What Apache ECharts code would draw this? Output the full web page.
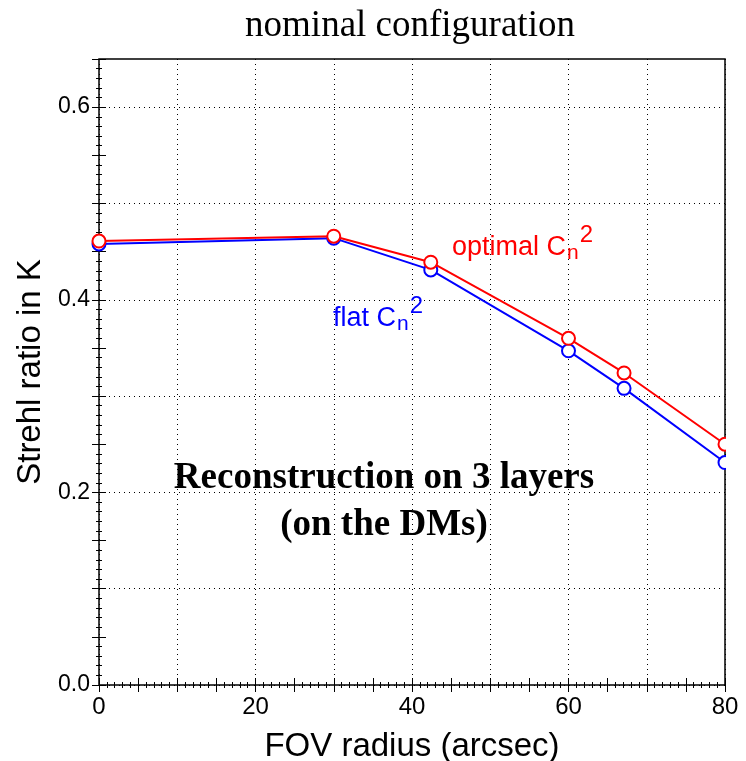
<!DOCTYPE html>
<html>
<head>
<meta charset="utf-8">
<script src="https://cdn.jsdelivr.net/npm/echarts@6/dist/echarts.min.js"></script>
<style>
  html, body { margin: 0; padding: 0; background: #fff; }
  #chart { width: 746px; height: 761px; }
</style>
</head>
<body>
<div id="chart"></div>
<script>
// FOV radius of each evaluation point (arcsec)
const fovRadius = [0, 30, 42.4, 60, 67.1, 80];
// Strehl ratio in K band for the two Cn2 profiles
const strehlOptimal = [0.461, 0.466, 0.439, 0.360, 0.324, 0.250];
const strehlFlat = [0.458, 0.464, 0.431, 0.347, 0.308, 0.231];
// Labelled ticks
const xTickLabels = [0, 20, 40, 60, 80];
const yTickLabels = [0.0, 0.2, 0.4, 0.6];

const X_MIN = 0, X_MAX = 80, Y_MIN = 0, Y_MAX = 0.65;
const sans = '"Liberation Sans", Arial, sans-serif';
const serif = '"Liberation Serif", "Times New Roman", serif';

function isLabelled(list, v) {
  return list.some(t => Math.abs(t - v) < 1e-6);
}

const tickStyle = { color: '#000', width: 1 };
// dotted grid only on every other tick (every 10 arcsec / every 0.1)
const gridDots = { color: ['#000', 'rgba(0,0,0,0)'], type: [1, 4], width: 1 };

function annotation(label, color, left, top) {
  const base = { fontFamily: sans, fill: color, color: color, lineHeight: 36 };
  return {
    type: 'text', left: left, top: top, z: 60,
    style: {
      text: '{a|' + label + ' C}{s|n}{p|2}',
      rich: {
        a: Object.assign({ fontSize: 27, verticalAlign: 'bottom' }, base),
        s: Object.assign({ fontSize: 21, verticalAlign: 'bottom', padding: [0, 1, -3, 1] }, base),
        p: Object.assign({ fontSize: 24, verticalAlign: 'top', padding: [-2, 0, 0, 0] }, base)
      }
    }
  };
}

const chart = echarts.init(document.getElementById('chart'), null, { renderer: 'canvas' });

const option = {
  animation: false,
  backgroundColor: '#fff',
  title: {
    text: 'nominal configuration',
    left: 405, top: 3, textAlign: 'center',
    textStyle: { fontFamily: serif, fontWeight: 'normal', fontSize: 37, color: '#000' }
  },
  grid: { left: 99, right: 21, top: 59, bottom: 76, containLabel: false,
          outerBoundsMode: 'none',
          show: true, borderColor: '#000', borderWidth: 1.5, backgroundColor: 'transparent' },
  xAxis: [
    {
      type: 'value', position: 'bottom', min: X_MIN, max: X_MAX, interval: 5,
      name: 'FOV radius (arcsec)', nameLocation: 'middle', nameGap: 45,
      nameTextStyle: { fontFamily: sans, fontSize: 33, color: '#000' },
      axisLine: { show: false },
      axisLabel: { show: true, margin: 10, fontFamily: sans, fontSize: 24, color: '#000',
        showMinLabel: true, showMaxLabel: true,
        formatter: v => isLabelled(xTickLabels, v) ? String(Math.round(v)) : '' },
      splitLine: { show: true, showMinLine: true, showMaxLine: true, lineStyle: gridDots },
      axisTick: { show: true, inside: true, length: 7, lineStyle: tickStyle },
      minorTick: { show: true, splitNumber: 5, length: 3, lineStyle: tickStyle }
    },
    {
      type: 'value', position: 'top', min: X_MIN, max: X_MAX, interval: 5,
      axisLine: { show: false }, axisLabel: { show: false }, splitLine: { show: false },
      axisTick: { show: true, inside: true, length: 7, lineStyle: tickStyle },
      minorTick: { show: true, splitNumber: 5, length: 3, lineStyle: tickStyle }
    }
  ],
  yAxis: [
    {
      type: 'value', position: 'left', min: Y_MIN, max: Y_MAX, interval: 0.05,
      name: 'Strehl ratio in K', nameLocation: 'middle', nameGap: 51,
      nameTextStyle: { fontFamily: sans, fontSize: 33, color: '#000' },
      axisLine: { show: false },
      axisLabel: { show: true, margin: 9, fontFamily: sans, fontSize: 23, color: '#000',
        showMinLabel: true,
        formatter: v => isLabelled(yTickLabels, v) ? v.toFixed(1) : '' },
      splitLine: { show: true, showMinLine: true, showMaxLine: true, lineStyle: gridDots },
      axisTick: { show: true, inside: true, length: 7, lineStyle: tickStyle },
      minorTick: { show: true, splitNumber: 5, length: 3, lineStyle: tickStyle }
    },
    {
      type: 'value', position: 'right', min: Y_MIN, max: Y_MAX, interval: 0.05,
      axisLine: { show: false }, axisLabel: { show: false }, splitLine: { show: false },
      axisTick: { show: true, inside: true, length: 7, lineStyle: tickStyle },
      minorTick: { show: true, splitNumber: 5, length: 3, lineStyle: tickStyle }
    }
  ],
  series: [
    {
      name: 'flat', type: 'line', xAxisIndex: 0, yAxisIndex: 0,
      data: fovRadius.map((x, i) => [x, strehlFlat[i]]),
      symbol: 'emptyCircle', symbolSize: 13,
      lineStyle: { color: '#0000ff', width: 2 },
      itemStyle: { color: '#0000ff', borderColor: '#0000ff', borderWidth: 1.3 },
      z: 3
    },
    {
      name: 'optimal', type: 'line', xAxisIndex: 0, yAxisIndex: 0,
      data: fovRadius.map((x, i) => [x, strehlOptimal[i]]),
      symbol: 'emptyCircle', symbolSize: 13,
      lineStyle: { color: '#ff0000', width: 2 },
      itemStyle: { color: '#ff0000', borderColor: '#ff0000', borderWidth: 1.3 },
      z: 4
    }
  ],
  graphic: [
    // markers at the right edge are cut by the frame
    {
      type: 'rect', z: 50, silent: true,
      shape: { x: 726, y: 40, width: 20, height: 645 },
      style: { fill: '#fff' }
    },
    annotation('optimal', '#ff0000', 452, 223),
    annotation('flat', '#0000ff', 333, 294),
    {
      type: 'text', x: 384, y: 502, z: 60,
      style: {
        text: 'Reconstruction on 3 layers\n(on the DMs)',
        textAlign: 'center', textVerticalAlign: 'middle',
        font: 'bold 37px ' + serif, lineHeight: 47, fill: '#000'
      }
    }
  ]
};

chart.setOption(option);
</script>
</body>
</html>
